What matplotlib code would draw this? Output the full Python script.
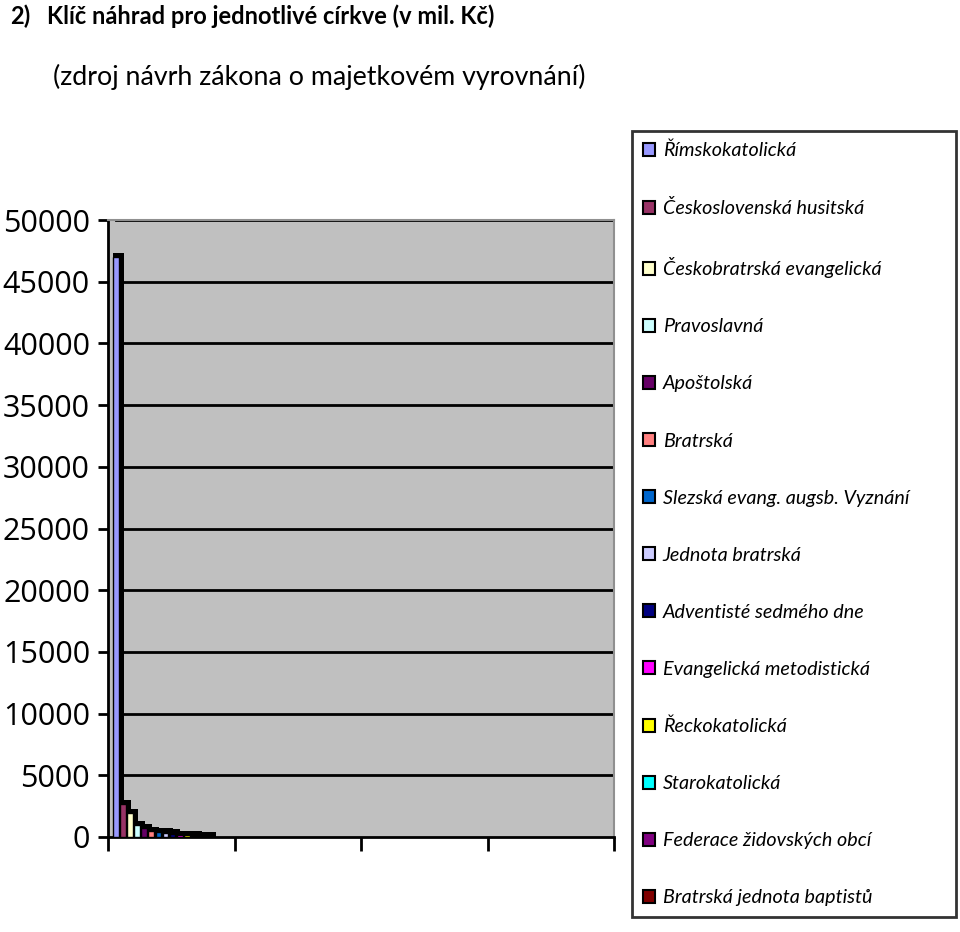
import matplotlib
matplotlib.use("Agg")
import matplotlib.pyplot as plt
import numpy as np

# data (mil. Kč)
cirkve = ["Římskokatolická", "Československá husitská", "Českobratrská evangelická",
          "Pravoslavná", "Apoštolská", "Bratrská", "Slezská evang. augsb. Vyznání",
          "Jednota bratrská", "Adventisté sedmého dne", "Evangelická metodistická",
          "Řeckokatolická", "Starokatolická", "Federace židovských obcí",
          "Bratrská jednota baptistů"]
hodnoty = [47000, 2650, 1950, 1000, 740, 480, 400, 360, 280, 170, 140, 120, 70, 50]
barvy = ["#9999FF", "#993366", "#FFFFCC", "#CCFFFF", "#660066", "#FF8080", "#0066CC",
         "#CCCCFF", "#000080", "#FF00FF", "#FFFF00", "#00FFFF", "#800080", "#800000"]
yticks = [0, 5000, 10000, 15000, 20000, 25000, 30000, 35000, 40000, 45000, 50000]

plt.rcParams['font.family'] = ['Lato', 'DejaVu Sans']

fig = plt.figure(figsize=(9.6, 9.32), dpi=100)
ax = fig.add_axes([108/960, 1-837/932, 506/960, 617/932])
ax.set_facecolor("#C0C0C0")

# gridlines
for v in yticks[1:]:
    ax.axhline(v, xmin=0.015, xmax=1, color="black", lw=2, zorder=1)

# bars (fake 3D: dark block behind each front face)
krok = 0.056
sirka = 0.045
dx, dy = 0.04, 330
for i, (h, c) in enumerate(zip(hodnoty, barvy)):
    x = 0.04 + i*krok
    ax.bar(x, h + dy, width=sirka + dx, align="edge", color="black", zorder=2+2*i)
    ax.bar(x, h, width=sirka, align="edge", color=c, edgecolor="black", lw=1,
           zorder=3+2*i, label=cirkve[i])

ax.set_xlim(0, 4)
ax.set_ylim(0, 50000)
ax.set_xticks([0, 1, 2, 3, 4])
ax.set_xticklabels([])
ax.set_yticks(yticks)
ax.set_yticklabels([str(v) for v in yticks], fontsize=22, family=['Open Sans', 'DejaVu Sans'])
ax.tick_params(axis="y", length=7, width=2, direction="out", pad=6)
ax.tick_params(axis="x", length=10, width=2, direction="out")
for s in ["left", "bottom"]:
    ax.spines[s].set_linewidth(2)
    ax.spines[s].set_color("black")
for s in ["top", "right"]:
    ax.spines[s].set_linewidth(1.5)
    ax.spines[s].set_color("#909090")

leg = fig.legend(loc="upper left", bbox_to_anchor=(632/960, 1-920/932, 324/960, 789/932),
                 mode="expand", borderaxespad=0, prop={'style': 'italic', 'size': 14.2},
                 labelspacing=2.03, handlelength=0.6, handleheight=0.6, handletextpad=0.4,
                 borderpad=0.55, fancybox=False, frameon=True)
leg.get_frame().set_edgecolor("black")
leg.get_frame().set_linewidth(2)
for p in leg.get_patches():
    p.set_edgecolor("black")
    p.set_linewidth(1.5)

fig.text(10/960, 1-16/932, "2)", fontsize=17, fontweight="bold", va="center", ha="left")
fig.text(47/960, 1-16/932, "Klíč náhrad pro jednotlivé církve (v mil. Kč)", fontsize=17,
         fontweight="bold", va="center", ha="left")
fig.text(53/960, 1-77/932, "(zdroj návrh zákona o majetkovém vyrovnání)", fontsize=19.3,
         va="center", ha="left")

fig.savefig("out.png", dpi=100)
